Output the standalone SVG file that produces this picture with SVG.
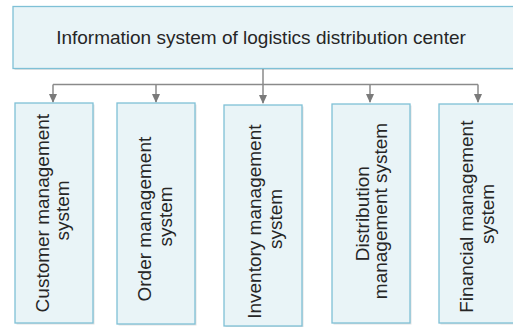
<svg xmlns="http://www.w3.org/2000/svg" width="513" height="327" viewBox="0 0 513 327">
  <style>
    .box { fill: #e9f4f7; stroke: #7fc0d6; stroke-width: 1.3; }
    .shadow { fill: #e2e2e2; }
    .label { font-family: "Liberation Sans", Arial, sans-serif; font-size: 19px; fill: #262626; text-anchor: middle; }
    .link { fill: none; stroke: #8a8a8a; stroke-width: 1.5; }
  </style>
  <defs>
    <marker id="arrow" viewBox="0 0 10 10" refX="9" refY="5" markerWidth="9" markerHeight="9" markerUnits="userSpaceOnUse" orient="auto">
      <path d="M0,0.5 L10,5 L0,9.5 Z" fill="#7a7a7a"/>
    </marker>
  </defs>
  <rect width="513" height="327" fill="#ffffff"/>

  <!-- root -->
  <g id="root">
    <rect class="shadow" x="14.5" y="8" width="502" height="62"/>
    <rect class="box" x="13" y="6.5" width="502" height="62"/>
    <text class="label" x="261" y="43.5">Information system of logistics distribution center</text>
  </g>

  <!-- connectors -->
  <g id="connectors">
    <path class="link" d="M263,69 V84.5 M53,84.5 H478"/>
    <path class="link" d="M53,84.5 V102" marker-end="url(#arrow)"/>
    <path class="link" d="M156,84.5 V102" marker-end="url(#arrow)"/>
    <path class="link" d="M263,84.5 V103" marker-end="url(#arrow)"/>
    <path class="link" d="M370,84.5 V102" marker-end="url(#arrow)"/>
    <path class="link" d="M478,84.5 V102" marker-end="url(#arrow)"/>
  </g>

  <g id="customer">
    <rect class="shadow" x="16.5" y="104.5" width="78" height="220"/>
    <rect class="box" x="15" y="103" width="78" height="220"/>
    <text class="label" transform="translate(48.5,210.5) rotate(-90)">
      <tspan x="0" y="0">Customer management</tspan>
      <tspan x="0" y="20.5">system</tspan>
    </text>
  </g>

  <g id="order">
    <rect class="shadow" x="118.5" y="104.5" width="78" height="221"/>
    <rect class="box" x="117" y="103" width="78" height="221"/>
    <text class="label" transform="translate(150.5,216.5) rotate(-90)">
      <tspan x="0" y="0">Order management</tspan>
      <tspan x="0" y="21">system</tspan>
    </text>
  </g>

  <g id="inventory">
    <rect class="shadow" x="225.5" y="106.5" width="78" height="221"/>
    <rect class="box" x="224" y="105" width="78" height="221"/>
    <text class="label" transform="translate(260.5,219) rotate(-90)">
      <tspan x="0" y="0">Inventory management</tspan>
      <tspan x="0" y="21.5">system</tspan>
    </text>
  </g>

  <g id="distribution">
    <rect class="shadow" x="333.5" y="105.5" width="78" height="219"/>
    <rect class="box" x="332" y="104" width="78" height="219"/>
    <text class="label" transform="translate(368.5,211) rotate(-90)">
      <tspan x="0" y="0">Distribution</tspan>
      <tspan x="0" y="18.5">management system</tspan>
    </text>
  </g>

  <g id="financial">
    <rect class="shadow" x="440.5" y="105.5" width="78" height="219"/>
    <rect class="box" x="439" y="104" width="78" height="219"/>
    <text class="label" transform="translate(472.5,214) rotate(-90)">
      <tspan x="0" y="0">Financial management</tspan>
      <tspan x="0" y="21.5">system</tspan>
    </text>
  </g>
</svg>
